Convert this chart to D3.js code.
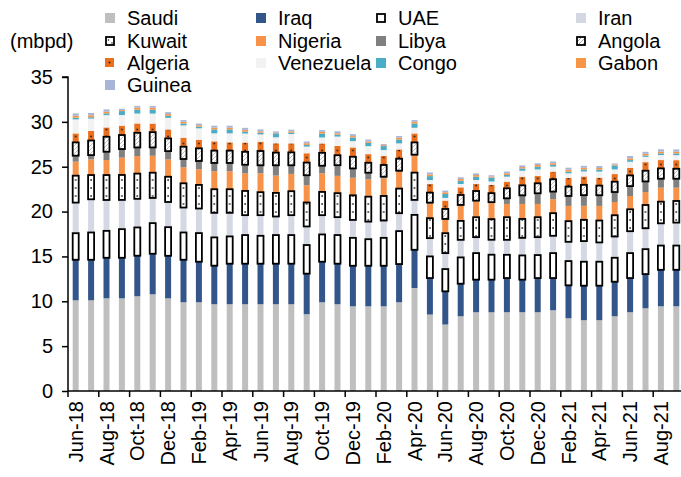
<!DOCTYPE html>
<html><head><meta charset="utf-8">
<script src="https://cdn.jsdelivr.net/npm/d3@7"></script>
<style>body{margin:0;background:#fff}svg{display:block;font-family:Arial,"Liberation Sans",sans-serif}</style>
</head><body><svg id="c" width="681" height="477"></svg>
<script>
const months = ["Jun-18","Jul-18","Aug-18","Sep-18","Oct-18","Nov-18","Dec-18",
"Jan-19","Feb-19","Mar-19","Apr-19","May-19","Jun-19","Jul-19","Aug-19","Sep-19","Oct-19","Nov-19","Dec-19",
"Jan-20","Feb-20","Mar-20","Apr-20","May-20","Jun-20","Jul-20","Aug-20","Sep-20","Oct-20","Nov-20","Dec-20",
"Jan-21","Feb-21","Mar-21","Apr-21","May-21","Jun-21","Jul-21","Aug-21","Sep-21"];
const seriesNames = ["Saudi","Iraq","UAE","Iran","Kuwait","Nigeria","Libya","Angola","Algeria","Venezuela","Congo","Gabon","Guinea"];
const saudi = [10.11,10.11,10.33,10.33,10.56,10.78,10.33,9.89,9.89,9.67,9.67,9.67,9.67,9.67,9.67,8.56,9.89,9.67,9.44,9.44,9.44,9.89,11.48,8.52,7.41,8.33,8.78,8.78,8.78,8.78,8.78,9.0,8.11,7.89,7.89,8.33,8.78,9.22,9.44,9.44];
const iraq = [4.52,4.52,4.52,4.52,4.52,4.52,4.74,4.74,4.52,4.3,4.52,4.52,4.52,4.52,4.52,4.52,4.52,4.52,4.52,4.52,4.52,4.26,4.26,4.07,3.7,3.63,3.63,3.63,3.81,3.63,3.81,3.59,3.67,3.85,3.85,3.85,3.81,3.81,4.07,4.07];
const uae = [2.96,3.04,3.0,3.19,3.15,3.41,3.19,3.04,3.19,3.15,3.04,3.19,3.11,3.19,3.19,3.19,3.04,3.19,3.11,2.96,3.11,3.67,3.89,2.41,2.48,2.93,2.96,2.78,2.59,2.7,2.56,2.78,2.7,2.67,2.67,2.67,2.78,2.78,2.7,2.7];
const iran = [3.41,3.7,3.44,3.26,3.19,2.81,2.81,2.78,2.74,2.74,2.63,2.22,2.3,2.07,2.22,2.07,2.15,2.0,2.0,1.96,1.93,2.0,1.67,2.04,1.78,1.96,1.78,1.67,1.67,1.96,2.0,1.93,2.15,2.3,2.15,2.37,2.44,2.33,2.48,2.56];
const kuwait = [3.0,2.7,2.78,2.78,2.81,2.81,2.81,2.7,2.63,2.63,2.63,2.7,2.56,2.63,2.67,2.67,2.59,2.67,2.74,2.78,2.74,2.74,3.04,2.22,2.22,2.11,2.22,2.3,2.52,2.11,2.22,2.52,2.3,2.37,2.44,2.37,2.44,2.59,2.41,2.41];
const nigeria = [1.56,1.74,1.67,1.93,1.96,1.89,1.93,1.78,1.74,2.0,2.0,1.96,2.11,1.93,1.93,1.93,2.07,1.93,1.96,1.93,1.96,1.85,1.89,1.59,1.48,1.67,1.74,1.78,1.48,1.67,1.48,1.56,1.7,1.56,1.63,1.48,1.48,1.44,1.56,1.48];
const libya = [0.67,0.48,0.93,0.96,0.96,0.93,0.93,0.93,0.93,0.93,0.93,0.96,0.89,1.15,0.96,1.11,0.85,1.19,1.04,0.74,0.19,0.15,0.11,0.15,0.11,0.11,0.11,0.11,0.63,0.96,1.19,0.85,1.11,1.19,1.19,1.11,1.11,1.19,1.0,1.0];
const angola = [1.48,1.63,1.67,1.56,1.63,1.7,1.41,1.37,1.41,1.37,1.37,1.44,1.59,1.41,1.44,1.41,1.44,1.11,1.3,1.11,1.3,1.33,1.37,1.11,1.11,1.11,1.07,1.0,1.11,1.11,1.11,1.37,1.04,1.15,1.07,1.15,1.19,1.19,1.15,1.11];
const algeria = [1.0,1.07,1.04,1.04,1.04,0.96,1.0,1.0,0.93,1.04,0.93,1.04,1.04,1.04,1.0,1.04,1.04,1.04,1.04,0.96,1.0,1.04,1.0,0.96,0.93,0.85,0.78,0.93,0.74,0.96,0.81,0.85,0.96,0.93,0.89,0.85,0.85,0.96,0.93,0.96];
const venezuela = [1.56,1.37,1.37,1.19,1.11,1.11,1.3,1.37,1.3,0.89,1.0,1.0,0.81,0.67,1.04,0.74,0.67,1.04,0.7,0.89,0.67,0.67,0.63,0.44,0.3,0.37,0.44,0.37,0.56,0.67,0.74,0.56,0.52,0.56,0.67,0.52,0.67,0.59,0.56,0.56];
const congo = [0.19,0.15,0.19,0.44,0.44,0.44,0.22,0.22,0.19,0.44,0.44,0.22,0.19,0.44,0.15,0.19,0.44,0.22,0.41,0.37,0.44,0.44,0.48,0.44,0.44,0.37,0.37,0.44,0.19,0.26,0.3,0.19,0.19,0.22,0.22,0.44,0.19,0.15,0.19,0.19];
const gabon = [0.22,0.22,0.19,0.11,0.22,0.22,0.19,0.19,0.15,0.19,0.19,0.19,0.15,0.07,0.15,0.19,0.19,0.15,0.15,0.15,0.11,0.19,0.19,0.19,0.19,0.19,0.19,0.11,0.19,0.15,0.19,0.19,0.22,0.19,0.19,0.11,0.19,0.19,0.19,0.19];
const guinea = [0.26,0.26,0.26,0.15,0.19,0.19,0.22,0.19,0.19,0.22,0.22,0.22,0.22,0.15,0.19,0.19,0.19,0.22,0.22,0.22,0.11,0.19,0.19,0.22,0.19,0.19,0.19,0.15,0.19,0.19,0.19,0.19,0.22,0.22,0.22,0.11,0.26,0.22,0.26,0.26];
const yTicks = [0,5,10,15,20,25,30,35];

const valuesBySeries = {Saudi:saudi,Iraq:iraq,UAE:uae,Iran:iran,Kuwait:kuwait,Nigeria:nigeria,Libya:libya,Angola:angola,Algeria:algeria,Venezuela:venezuela,Congo:congo,Gabon:gabon,Guinea:guinea};
const table = months.map((m,i)=>{const r={month:m}; seriesNames.forEach(s=>r[s]=valuesBySeries[s][i]); return r;});

const fills = {Saudi:"#bfbfbf",Iraq:"#32558a",UAE:"#ffffff",Iran:"#d3d8e3",Kuwait:"url(#pKuwait)",Nigeria:"#f79248",
  Libya:"#808080",Angola:"url(#pAngola)",Algeria:"url(#pAlgeria)",Venezuela:"#f2f2f2",Congo:"#4bacc6",Gabon:"#f79646",Guinea:"#a8b5d8"};
const outlined = new Set(["UAE","Kuwait","Angola"]);

const svg = d3.select("#c");
const x0 = 68, step = 15.4;
const x = d3.scaleBand().domain(months).range([x0, x0+step*months.length]).padding(0);
const y = d3.scaleLinear().domain([0,35]).range([391,77]);
const barW = 6;

const defs = svg.append("defs");
const firstLeft = x(months[0]) + (x.bandwidth()-barW)/2;
// Kuwait: white with sparse dots
const pk = defs.append("pattern").attr("id","pKuwait").attr("patternUnits","userSpaceOnUse")
  .attr("x",firstLeft).attr("y",0).attr("width",step).attr("height",8);
pk.append("rect").attr("width",step).attr("height",8).attr("fill","#fff");
pk.append("circle").attr("cx",3).attr("cy",4).attr("r",0.9).attr("fill","#333");
// Angola: white with light diagonal hatch
const pa = defs.append("pattern").attr("id","pAngola").attr("patternUnits","userSpaceOnUse")
  .attr("width",4).attr("height",4);
pa.append("rect").attr("width",4).attr("height",4).attr("fill","#fff");
pa.append("path").attr("d","M-1,1 l2,-2 M0,4 l4,-4 M3,5 l2,-2").attr("stroke","#b0b0b0").attr("stroke-width",0.8);
// Algeria: orange with dark dots
const pg = defs.append("pattern").attr("id","pAlgeria").attr("patternUnits","userSpaceOnUse")
  .attr("x",firstLeft).attr("y",0).attr("width",step).attr("height",7);
pg.append("rect").attr("width",step).attr("height",7).attr("fill","#ec6f1d");
pg.append("circle").attr("cx",3).attr("cy",3.5).attr("r",0.9).attr("fill","#222");
// legend patterns (object-centered)
const lk = defs.append("pattern").attr("id","lKuwait").attr("patternUnits","objectBoundingBox").attr("width",1).attr("height",1);
lk.append("rect").attr("width",9).attr("height",9).attr("fill","#fff");
lk.append("circle").attr("cx",2.5).attr("cy",3).attr("r",0.8).attr("fill","#222");
lk.append("circle").attr("cx",6).attr("cy",6).attr("r",0.8).attr("fill","#222");
const lg = defs.append("pattern").attr("id","lAlgeria").attr("patternUnits","objectBoundingBox").attr("width",1).attr("height",1);
lg.append("rect").attr("width",9).attr("height",9).attr("fill","#ec6f1d");
lg.append("circle").attr("cx",4.5).attr("cy",4.5).attr("r",1).attr("fill","#222");

const stack = d3.stack().keys(seriesNames);
const layers = stack(table);

const plot = svg.append("g");
function drawLayer(layer){
  const name = layer.key;
  plot.append("g").selectAll("rect").data(layer).join("rect")
    .attr("x",d=>x(d.data.month)+(x.bandwidth()-barW)/2)
    .attr("width",barW)
    .attr("y",d=>y(d[1]))
    .attr("height",d=>Math.max(0,y(d[0])-y(d[1])))
    .attr("fill",fills[name])
    .attr("stroke",outlined.has(name)?"#000":"none")
    .attr("stroke-width",outlined.has(name)?1.8:0);
}
layers.filter(l=>!outlined.has(l.key)).forEach(drawLayer);
layers.filter(l=>outlined.has(l.key)).forEach(drawLayer);

// axes
const fontSize = 20;
const yAxis = svg.append("g").attr("transform",`translate(${x0},0)`)
  .call(d3.axisLeft(y).tickValues(yTicks).tickSize(6).tickPadding(9));
yAxis.select(".domain").attr("stroke","#000").attr("stroke-width",1.5).attr("d",`M-6,${y(35)}H0V${y(0)}`);
yAxis.selectAll(".tick line").attr("stroke","#000").attr("stroke-width",1.5);
yAxis.selectAll("text").attr("font-size",fontSize).attr("fill","#000").style("font-family","Arial, 'Liberation Sans', sans-serif");

const xg = svg.append("g").attr("transform",`translate(0,${y(0)})`);
xg.append("line").attr("x1",x0).attr("x2",x0+step*months.length).attr("stroke","#000").attr("stroke-width",1.5);
const boundaries = d3.range(0, months.length+1, 2);
xg.selectAll("line.tk").data(boundaries).join("line").attr("class","tk")
  .attr("x1",i=>x0+i*step).attr("x2",i=>x0+i*step).attr("y1",0).attr("y2",6)
  .attr("stroke","#000").attr("stroke-width",1.5);
xg.selectAll("text").data(months.filter((m,i)=>i%2===0)).join("text")
  .attr("transform",m=>`translate(${x(m)+x.bandwidth()/2+7},10) rotate(-90)`)
  .attr("text-anchor","end").attr("font-size",fontSize).attr("fill","#000").text(m=>m);

// unit label
svg.append("text").attr("x",10).attr("y",48).attr("font-size",fontSize).text("(mbpd)");

// legend
const legendFill = Object.assign({}, fills, {Kuwait:"url(#lKuwait)",Angola:"url(#lAngolaL)",Algeria:"url(#lAlgeria)"});
const la = defs.append("pattern").attr("id","lAngolaL").attr("patternUnits","userSpaceOnUse").attr("width",4).attr("height",4);
la.append("rect").attr("width",4).attr("height",4).attr("fill","#fff");
la.append("path").attr("d","M-1,1 l2,-2 M0,4 l4,-4 M3,5 l2,-2").attr("stroke","#999").attr("stroke-width",0.9);
const colText = [127,278,398,598];
const rowY = [18,41,63,85];
const leg = svg.append("g");
seriesNames.forEach((s,i)=>{
  const c = i%4, r = Math.floor(i/4);
  const g = leg.append("g").attr("transform",`translate(${colText[c]},${rowY[r]})`);
  const o = outlined.has(s);
  g.append("rect").attr("x",o?-21:-22).attr("y",o?-4:-5).attr("width",o?8:10).attr("height",o?8:10)
    .attr("fill",legendFill[s]).attr("stroke",o?"#000":"none").attr("stroke-width",o?1.8:0);
  g.append("text").attr("x",0).attr("y",7).attr("font-size",fontSize).text(s);
});
</script></body></html>
